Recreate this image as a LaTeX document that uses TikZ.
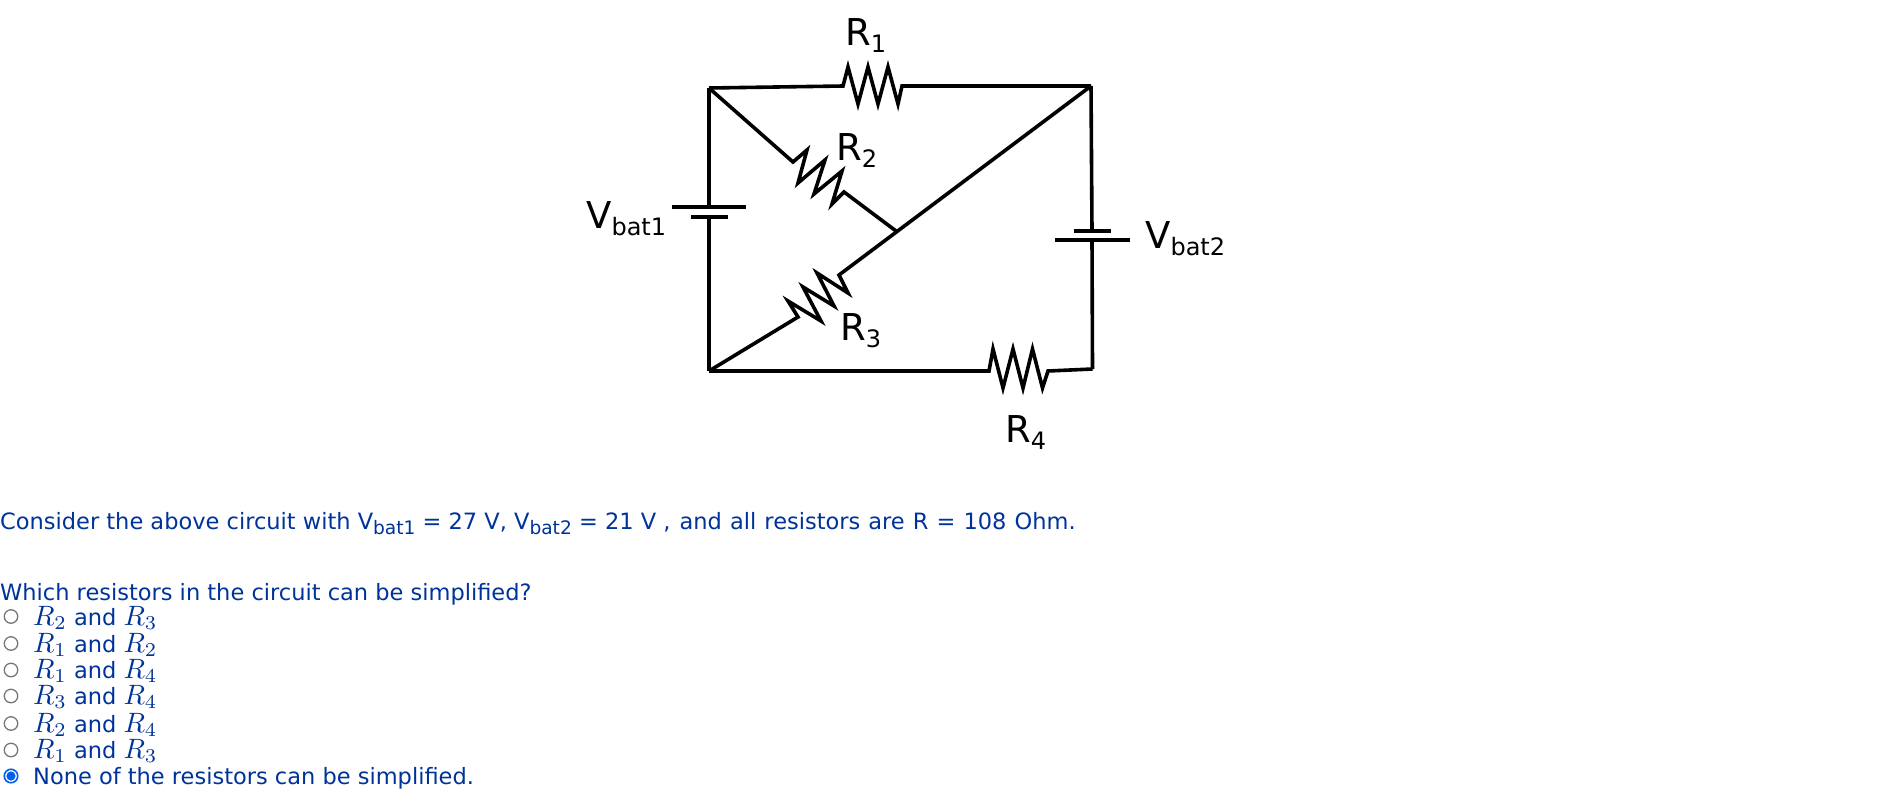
\documentclass[tikz,border=0pt]{standalone}
\usepackage{graphicx}
\usepackage{fontspec}
\setmainfont{DejaVu Sans}
\definecolor{qblue}{RGB}{0,51,153}
\definecolor{radiogray}{RGB}{118,118,118}
\definecolor{radioblue}{RGB}{0,95,235}
\newcommand{\clab}[2]{{\fontsize{37}{37}\selectfont #1}\raisebox{-7pt}{\fontsize{24}{24}\selectfont #2}}
\newcommand{\tsub}[1]{\raisebox{-5pt}{\fontsize{18.6}{19}\selectfont #1}}
\newcommand{\bigR}[1]{\scalebox{2.8}{\normalsize$R_{#1}$}}
\newcommand{\opt}[2]{\bigR{#1} and \bigR{#2}}
\tikzset{
  wire/.style={draw=black,line width=3.6pt,line join=miter,miter limit=6},
  plate/.style={draw=black,line width=3.6pt},
  clabel/.style={anchor=base west,inner sep=0pt,text=black},
  qtext/.style={anchor=base west,inner sep=0pt,text=qblue,font=\fontsize{22.5}{26}\selectfont},
  radio/.style={circle,draw=radiogray,line width=1.3pt,minimum size=13.5pt,inner sep=0pt,fill=white},
  radioon/.style={circle,draw=radioblue,line width=1.6pt,minimum size=13.5pt,inner sep=0pt,fill=white}
}
\begin{document}
\begin{tikzpicture}[x=1pt,y=-1pt]
\useasboundingbox (0,0) rectangle (1877,798);
% junctions
\coordinate (TL) at (709,88);
\coordinate (TR) at (1091,86);
\coordinate (BL) at (709,371);
\coordinate (BR) at (1092.5,369);
\coordinate (J) at (896,231);
\coordinate (B1a) at (709,207);
\coordinate (B1b) at (709,217);
\coordinate (B2a) at (1092,231);
\coordinate (B2b) at (1092,240);
% batteries
\draw[wire] (TL) -- (B1a);
\draw[wire] (B1b) -- (BL);
\draw[wire] (TR) -- (B2a);
\draw[wire] (B2b) -- (BR);
\draw[plate] (672,207) -- (746,207);
\draw[plate] (691,217) -- (728,217);
\draw[plate] (1073.5,231) -- (1111,231);
\draw[plate] (1055,240) -- (1130,240);
% R1
\draw[wire] (TL) -- (843,86) -- (848,67) -- (858,104) -- (868,67) -- (878,104) -- (888,67) -- (898,104) -- (902,86) -- (TR);
% R2
\draw[wire] (TL) -- (793,162) -- (807,150) -- (798,183) -- (825,160) -- (814,194) -- (842,171) -- (832,204) -- (844,192) -- (J);
% R3
\draw[wire] (BL) -- (798,317) -- (788,301) -- (821,321) -- (803,287) -- (834,306) -- (817,273) -- (848,293) -- (839,275) -- (TR);
% R4
\draw[wire] (BL) -- (989,371) -- (993,349) -- (1003,388) -- (1013,349) -- (1023,388) -- (1032.5,349) -- (1042.5,388) -- (1048,371) -- (BR);
% circuit labels
\node[clabel] (lr1) at (845,45) {\clab{R}{1}};
\node[clabel] (lr2) at (836,160) {\clab{R}{2}};
\node[clabel] (lr3) at (840,340) {\clab{R}{3}};
\node[clabel] (lr4) at (1005,442) {\clab{R}{4}};
\node[clabel] (lv1) at (586,228) {\clab{V}{bat1}};
\node[clabel] (lv2) at (1145,248) {\clab{V}{bat2}};
% text
\node[qtext] (t1) at (0,529) {Consider the above circuit with V\tsub{bat1} = 27 V, V\tsub{bat2} = 21 V ,\hspace{2pt} {\spaceskip=8.1pt and all resistors are R = 108 Ohm.}};
\node[qtext] (t2) at (0,600) {Which resistors in the circuit can be simplified?};
\node[qtext] (o1) at (33,625) {\opt{2}{3}};
\node[qtext] (o2) at (33,652) {\opt{1}{2}};
\node[qtext] (o3) at (33,678) {\opt{1}{4}};
\node[qtext] (o4) at (33,704) {\opt{3}{4}};
\node[qtext] (o5) at (33,732) {\opt{2}{4}};
\node[qtext] (o6) at (33,758) {\opt{1}{3}};
\node[qtext] (o7) at (33,784) {None of the resistors can be simplified.};
\node[radio] (r1) at (11,616.5) {};
\node[radio] (r2) at (11,643.5) {};
\node[radio] (r3) at (11,670) {};
\node[radio] (r4) at (11,696) {};
\node[radio] (r5) at (11,723.5) {};
\node[radio] (r6) at (11,750) {};
\node[radioon] (r7) at (11,776) {};
\fill[radioblue] (r7.center) circle (4.6pt);
\end{tikzpicture}
\end{document}
